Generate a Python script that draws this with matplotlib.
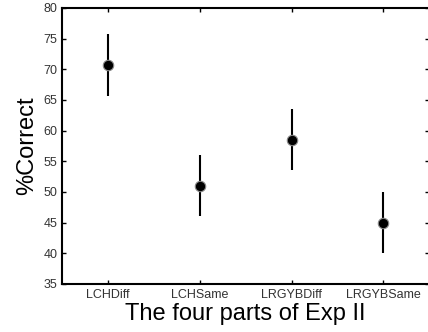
import matplotlib
matplotlib.use("Agg")
import matplotlib.pyplot as plt

conditions = ["LCHDiff", "LCHSame", "LRGYBDiff", "LRGYBSame"]
percent_correct = [70.7, 51.0, 58.5, 45.0]
error = [5.0, 5.0, 5.0, 5.0]

plt.rcParams['font.family'] = ['Liberation Sans', 'DejaVu Sans']

fig = plt.figure(figsize=(4.28, 3.32), dpi=100)
ax = fig.add_axes([0.145, 0.145, 0.858, 0.831])

xpos = list(range(1, len(conditions) + 1))
ax.errorbar(xpos, percent_correct, yerr=error, fmt='o', color='black',
            ecolor='black', elinewidth=1.5, capsize=0, markersize=7.5,
            markerfacecolor='black', markeredgecolor='#888888', markeredgewidth=0.8)

ax.set_xlim(0.5, 4.5)
ax.set_ylim(35, 80)
ax.set_xticks(xpos)
ax.set_xticklabels(conditions)
ax.set_yticks(range(35, 81, 5))
ax.tick_params(direction='in', top=True, right=True, labelsize=9, length=3, width=1,
               colors='black')
ax.tick_params(axis='x', labelcolor='#333333')
ax.tick_params(axis='y', labelcolor='#333333')
for s in ax.spines.values():
    s.set_linewidth(1.5)

ax.set_xlabel("The four parts of Exp II", fontsize=17, labelpad=1.5)
ax.set_ylabel("%Correct", fontsize=17, labelpad=4)

fig.savefig("out.png", dpi=100)
